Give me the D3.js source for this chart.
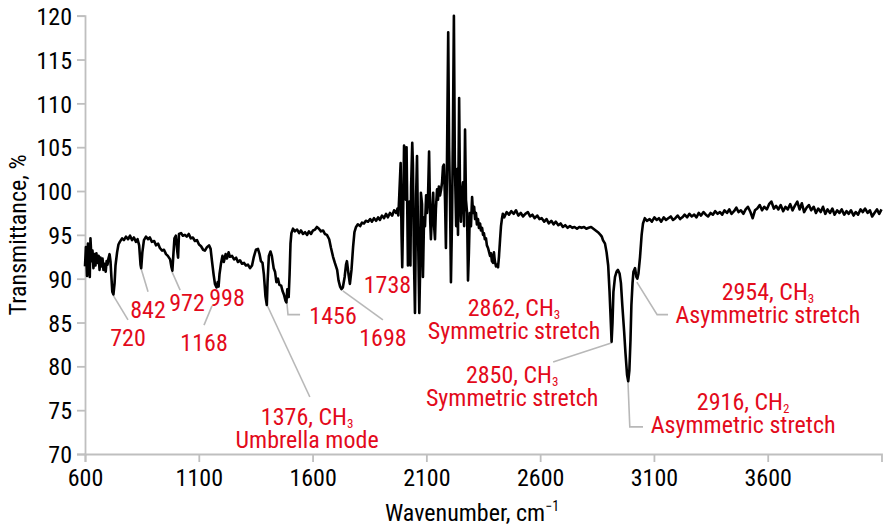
<!DOCTYPE html>
<html><head><meta charset="utf-8">
<script src="https://cdn.jsdelivr.net/npm/d3@7"></script>
<style>html,body{margin:0;padding:0;background:#fff;overflow:hidden}</style>
</head><body>
<svg id="chart" width="883" height="529"></svg>
<script>
// ---------------- DATA ----------------
const xTicks = [600, 1100, 1600, 2100, 2600, 3100, 3600];
const yTicks = [70, 75, 80, 85, 90, 95, 100, 105, 110, 115, 120];
const xTitle = "Wavenumber, cm";
const xTitleSup = "\u22121";
const yTitle = "Transmittance, %";

// [wavenumber, transmittance %]
const fingerprintRegion = [
[600,91.4],[604,93.6],[609,90.3],[613,94.0],[617,92.5],[621,90.2],[624,94.6],[629,92.0],[633,93.2],[637,91.2],[642,92.8],[646,91.5],[650,92.9],[655,91.8],[660,92.6],[664,91.0],[668,92.4],[672,91.4],[677,92.3],[681,91.0],[685,91.7],[691,90.8],[695,92.0],[699,91.6],[703,92.3],[708,92.8],[712,92.0],[716,90.2],[720,88.5],[725,88.2],[730,89.5],[734,91.5],[741,93.0],[747,93.9],[753,94.2],[763,94.6],[771,94.4],[780,94.8],[789,94.5],[798,94.9],[807,94.4],[815,94.7],[824,94.2],[831,94.5],[838,93.8],[844,91.6],[847,91.2],[852,93.0],[859,94.4],[868,94.8],[877,94.5],[885,94.7],[894,94.2],[904,94.3],[912,93.8],[921,94.0],[929,93.5],[939,93.2],[947,93.3],[956,92.8],[964,92.6],[974,92.2],[980,91.3],[984,90.9],[987,92.2],[993,94.6],[999,94.9],[1006,93.0],[1009,92.4]
];
const lowMidRegion = [
[1013,95.1],[1022,95.2],[1030,94.9],[1039,95.0],[1047,94.8],[1056,95.1],[1065,94.6],[1074,94.7],[1083,94.3],[1092,94.4],[1101,93.9],[1110,93.7],[1119,93.3],[1127,93.2],[1136,93.6],[1145,93.8],[1152,93.4],[1158,92.0],[1165,90.5],[1171,89.4],[1178,89.0],[1183,89.6],[1187,89.1],[1191,90.5],[1198,91.8],[1204,92.6],[1210,91.9],[1218,92.8],[1224,92.3],[1231,93.0],[1237,92.5],[1246,92.6],[1255,92.2],[1264,92.4],[1272,91.9],[1281,92.1],[1290,91.7],[1299,91.8],[1307,91.5],[1316,91.6],[1325,91.2],[1334,91.5],[1342,92.5],[1351,93.3],[1360,93.4],[1367,92.8],[1373,92.0],[1380,91.8],[1386,90.5],[1393,88.0],[1399,87.0],[1402,89.5],[1408,92.6],[1415,93.1],[1421,92.6],[1429,91.2],[1435,90.8],[1441,89.6],[1448,90.0],[1454,89.3],[1462,89.2],[1468,88.6],[1474,88.2],[1481,87.5],[1485,87.3],[1489,88.8],[1495,87.9],[1499,90.5],[1503,94.0],[1507,95.2],[1514,95.7],[1522,95.4]
];
const midRegion = [
[1532,95.6],[1541,95.2],[1549,95.5],[1558,95.1],[1567,95.3],[1576,95.0],[1584,95.4],[1593,95.1],[1602,95.5],[1611,95.6],[1619,95.9],[1628,95.7],[1637,95.4],[1646,95.5],[1654,95.1],[1663,95.0],[1673,94.5],[1681,93.5],[1690,92.5],[1698,91.8],[1708,91.0],[1714,89.8],[1721,89.1],[1727,88.8],[1733,89.0],[1741,90.2],[1747,91.6],[1751,92.0],[1758,90.5],[1764,89.4],[1771,91.0],[1778,93.6],[1784,95.3],[1791,95.9],[1799,96.2],[1809,96.0],[1817,96.4],[1826,96.3],[1834,96.6],[1844,96.5],[1853,96.8],[1861,96.5],[1870,96.9],[1879,96.6],[1888,97.0],[1896,96.7],[1905,97.2],[1914,96.9],[1923,97.4],[1931,97.0],[1940,97.5],[1950,97.2],[1958,97.8],[1967,97.5],[1973,98.0]
];
const co2Region = [
[1977,97.2],[1981,99.5],[1987,103.2],[1991,95.0],[1994,91.3],[1998,97.5],[2002,105.2],[2006,104.6],[2010,99.0],[2013,105.0],[2019,91.5],[2022,93.5],[2026,98.8],[2030,91.5],[2033,100.5],[2038,105.5],[2041,103.0],[2045,93.0],[2050,86.1],[2055,99.5],[2059,104.0],[2063,96.0],[2069,86.1],[2073,91.5],[2076,99.8],[2081,98.5],[2085,90.2],[2090,97.0],[2094,96.0],[2099,99.5],[2103,97.5],[2107,99.0],[2112,104.5],[2117,96.5],[2120,94.5],[2125,97.5],[2130,99.8],[2134,96.0],[2138,94.5],[2142,98.0],[2147,100.2],[2151,99.0],[2155,100.5],[2160,99.5],[2165,100.2],[2169,101.0],[2173,102.8],[2177,103.0],[2182,99.0],[2186,93.5],[2190,101.5],[2196,118.1],[2200,105.0],[2204,99.0],[2208,89.6],[2213,97.0],[2217,107.5],[2221,120.0],[2225,103.5],[2231,96.0],[2235,102.5],[2239,95.0],[2244,110.6],[2248,99.5],[2252,96.5],[2256,99.8],[2261,101.0],[2266,96.0],[2270,107.0],[2274,99.0],[2279,97.5],[2283,89.8],[2287,93.0],[2291,97.5],[2296,96.0],[2301,99.3],[2305,97.5],[2310,98.2],[2314,96.8],[2318,97.5],[2322,96.2],[2327,96.8],[2331,95.8],[2336,96.3],[2340,95.5],[2345,95.8],[2349,95.0],[2353,95.2],[2357,94.5],[2362,94.6],[2366,93.8],[2371,93.5],[2376,93.0],[2380,92.6],[2384,92.9],[2388,92.0],[2393,91.8],[2397,93.0],[2401,92.0],[2406,91.4],[2411,91.6],[2415,91.3],[2419,92.5],[2424,94.5],[2428,96.0],[2432,96.8],[2436,97.4],[2442,97.0]
];
const chRegion = [
[2453,97.6],[2463,97.3],[2473,97.7],[2484,97.4],[2494,97.8],[2504,97.2],[2515,97.5],[2525,97.1],[2535,97.4],[2546,97.6],[2556,97.1],[2566,97.3],[2576,96.9],[2587,97.2],[2597,96.8],[2607,96.9],[2618,96.5],[2628,96.8],[2638,96.3],[2649,96.6],[2659,96.2],[2669,96.5],[2680,96.1],[2690,96.3],[2700,95.9],[2710,96.1],[2721,95.8],[2731,96.0],[2741,95.8],[2751,95.9],[2762,95.7],[2772,95.9],[2782,95.8],[2793,95.9],[2803,95.7],[2813,95.8],[2824,95.9],[2834,95.7],[2844,95.5],[2854,95.3],[2865,95.0],[2871,94.8],[2876,94.4],[2885,94.0],[2892,93.0],[2899,91.5],[2905,88.5],[2909,86.0],[2914,82.8],[2918,85.0],[2922,88.5],[2929,90.2],[2936,90.8],[2942,91.0],[2949,90.6],[2955,89.5],[2961,87.0],[2969,84.0],[2975,81.5],[2982,79.0],[2987,78.3],[2992,79.5],[2997,83.0],[3001,87.0],[3006,89.5],[3010,90.8],[3017,91.2],[3023,90.2],[3027,90.0],[3032,90.6],[3039,92.5],[3046,95.0],[3052,96.3],[3060,96.9],[3069,96.6]
];
const highRegion = [
[3081,96.8],[3091,96.5],[3102,97.0],[3112,96.7],[3122,96.9],[3132,96.5],[3143,97.0],[3153,96.7],[3163,96.9],[3174,97.1],[3184,96.7],[3194,96.9],[3204,97.2],[3215,96.8],[3225,97.0],[3235,97.3],[3246,97.0],[3256,97.4],[3266,97.1],[3277,97.3],[3287,97.0],[3297,97.5],[3307,97.2],[3318,97.6],[3328,97.3],[3338,97.1],[3349,97.5],[3359,97.3],[3369,97.7],[3380,97.4],[3390,97.6],[3400,97.3],[3410,97.8],[3421,97.5],[3431,97.9],[3441,97.4],[3452,97.7],[3462,98.1],[3472,97.6],[3482,97.8],[3493,97.4],[3503,97.9],[3513,98.2],[3524,97.6],[3534,96.9],[3544,97.8],[3554,98.0],[3565,98.4],[3575,97.8],[3585,98.2],[3596,97.9],[3606,98.5],[3616,98.8],[3627,98.0],[3637,98.3],[3647,97.9],[3657,98.4],[3668,97.7],[3678,98.2],[3688,97.9],[3699,98.5],[3709,97.8],[3719,98.3],[3730,98.8],[3740,97.9],[3750,98.6],[3760,97.6],[3771,98.1],[3781,98.4],[3791,97.8],[3802,98.2],[3812,97.5],[3822,98.0],[3833,97.6],[3843,98.2],[3853,97.4],[3863,97.9],[3874,97.5],[3884,98.0],[3894,97.3],[3905,97.8],[3915,97.5],[3925,97.9],[3936,97.3],[3946,97.7],[3956,97.4],[3966,97.8],[3977,97.2],[3987,97.6],[3997,97.3],[4008,97.9],[4018,97.6],[4028,98.0],[4039,97.5],[4049,97.8],[4059,97.1],[4069,97.5],[4080,97.9],[4090,97.4],[4100,97.9]
];

// Peak annotations: anchor in data units [wavenumber, transmittance]; each line = [text, subscript]
const peakLabels = [
  {wn:789,  t:82.3, lines:[["720"]]},
  {wn:877,  t:85.5, lines:[["842"]]},
  {wn:1048, t:86.3, lines:[["972"]]},
  {wn:1224, t:86.9, lines:[["998"]]},
  {wn:1123, t:81.75, lines:[["1168"]]},
  {wn:1576, t:73.3, lines:[["1376, CH","3"],["Umbrella mode"]]},
  {wn:1690, t:84.8, lines:[["1456"]]},
  {wn:1909, t:82.3, lines:[["1698"]]},
  {wn:1929, t:88.4, lines:[["1738"]]},
  {wn:2485, t:85.7, lines:[["2862, CH","3"],["Symmetric stretch"]]},
  {wn:2477, t:78.1, lines:[["2850, CH","3"],["Symmetric stretch"]]},
  {wn:3601, t:87.6, lines:[["2954, CH","3"],["Asymmetric stretch"]]},
  {wn:3492, t:75.0, lines:[["2916, CH","2"],["Asymmetric stretch"]]}
];
// Leader lines in data units
const leaderLines = [
  [[724,88.1],[789,85.3]],
  [[846,91.2],[877,88.5]],
  [[982,90.8],[1018,88.7]],
  [[1123,84.7],[1158,86.9]],
  [[1400,87.0],[1588,76.5]],
  [[1487,87.3],[1492,85.9],[1545,85.9]],
  [[1733,88.6],[1909,85.3]],
  [[2916,82.7],[2657,80.5]],
  [[3025,89.6],[3114,85.9],[3162,85.9]],
  [[2986,78.2],[2994,73.1],[3052,73.1]]
];

// ---------------- FONT ----------------
function hasFont(name){
  const c = document.createElement('canvas').getContext('2d');
  const s = 'mmmmmmmmmmlli1WW0123456789abcdefg';
  for (const base of ['monospace','serif']) {
    c.font = '40px ' + base; const w0 = c.measureText(s).width;
    c.font = '40px "' + name + '", ' + base; const w1 = c.measureText(s).width;
    if (Math.abs(w0 - w1) > 0.5) return true;
  }
  return false;
}
let FONT = 'sans-serif', SX = 0.82;
if (hasFont('Liberation Sans Narrow')) { FONT = '"Liberation Sans Narrow"'; SX = 1; }
else if (hasFont('Roboto Condensed')) { FONT = '"Roboto Condensed"'; SX = 1; }
else if (hasFont('Liberation Sans')) { FONT = '"Liberation Sans"'; SX = 0.82; }

// ---------------- CHART ----------------
const FS = 24;
const SUB = 13, SUBDY = 3;
const RED = '#e30a1b';
const AXIS = '#bfbfbf';
const svg = d3.select('#chart').attr('font-family', FONT);

const x = d3.scaleLinear().domain([600, 4100]).range([85, 881.5]);
const y = d3.scaleLinear().domain([70, 120]).range([454, 15.7]);

const spectrum = [].concat(fingerprintRegion, lowMidRegion, midRegion, co2Region, chRegion, highRegion);

// axes
const gx = svg.append('g').attr('transform', `translate(0,${y(70)})`)
  .call(d3.axisBottom(x).tickValues(xTicks).tickSize(8).tickPadding(7).tickFormat(d3.format('d')));
const gy = svg.append('g').attr('transform', `translate(${x(600)},0)`)
  .call(d3.axisLeft(y).tickValues(yTicks).tickSize(8).tickPadding(5).tickFormat(d3.format('d')));
[gx, gy].forEach(g => {
  g.select('.domain').attr('stroke', AXIS).attr('stroke-width', 1.8);
  g.selectAll('.tick line').attr('stroke', AXIS).attr('stroke-width', 1.8);
  g.selectAll('.tick text').attr('fill', '#000').attr('font-size', FS).attr('font-family', FONT);
});
gy.selectAll('.tick text').attr('dy', '0.36em').each(function(){
  const t = d3.select(this); const xx = +t.attr('x');
  t.attr('transform', `scale(${SX},1)`).attr('x', xx / SX);
});
gx.selectAll('.tick text').attr('transform', `scale(${SX},1)`);

// leader lines
const lineGen = d3.line().x(d => x(d[0])).y(d => y(d[1]));
svg.append('g').selectAll('path').data(leaderLines).join('path')
  .attr('d', lineGen).attr('fill', 'none').attr('stroke', '#b8b8b8').attr('stroke-width', 1.6);

// spectrum
svg.append('path').datum(spectrum)
  .attr('d', lineGen).attr('fill', 'none').attr('stroke', '#000')
  .attr('stroke-width', 2.6).attr('stroke-linejoin', 'round');

// peak labels (one text element per label, lines as tspans)
const LH = 23;
peakLabels.forEach(a => {
  const t = svg.append('g').attr('transform', `translate(${x(a.wn)},${y(a.t)}) scale(${SX},1)`)
    .append('text').attr('text-anchor', 'middle').attr('font-size', FS).attr('fill', RED);
  let shift = 0;
  a.lines.forEach((ln, i) => {
    const main = t.append('tspan').text(ln[0]);
    if (i > 0) main.attr('x', 0).attr('dy', LH - shift);
    shift = 0;
    if (ln[1]) { t.append('tspan').attr('font-size', SUB).attr('dy', SUBDY).text(ln[1]); shift = SUBDY; }
  });
});

// axis titles
const xt = svg.append('g').attr('transform', `translate(472,521) scale(${SX},1)`)
  .append('text').attr('text-anchor', 'middle').attr('font-size', FS).attr('fill', '#000');
xt.append('tspan').text(xTitle);
xt.append('tspan').attr('font-size', 14).attr('dy', -10).text(xTitleSup);

svg.append('g').attr('transform', `translate(26,${(y(70) + y(120)) / 2}) rotate(-90) scale(${SX},1)`)
  .append('text').attr('text-anchor', 'middle').attr('font-size', FS).attr('fill', '#000').text(yTitle);
</script>
</body></html>
